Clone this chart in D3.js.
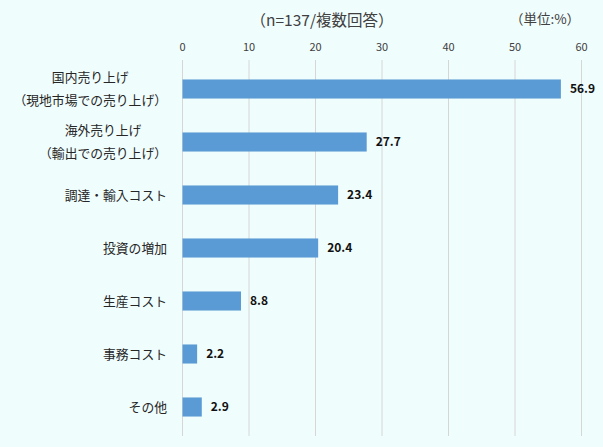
<!DOCTYPE html>
<html>
<head>
<meta charset="utf-8">
<script src="https://cdn.jsdelivr.net/npm/d3@7.9.0/dist/d3.min.js"></script>
<style>
  body { margin: 0; background: #f0fdfd; }
  svg { display: block; font-family: "Noto Sans CJK JP", "Noto Sans", sans-serif; }
</style>
</head>
<body>
<svg id="chart" width="603" height="447"></svg>
<script>
// categories (lines split for two-line labels) and values
const categories = [
    ['国内売り上げ', '（現地市場での売り上げ）'],
    ['海外売り上げ', '（輸出での売り上げ）'],
    ['調達・輸入コスト'],
    ['投資の増加'],
    ['生産コスト'],
    ['事務コスト'],
    ['その他']
];
const values = [56.9, 27.7, 23.4, 20.4, 8.8, 2.2, 2.9];
const ticks = [0, 10, 20, 30, 40, 50, 60];

const svg = d3.select('#chart');
const W = 603, H = 447;

svg.append('rect').attr('width', W).attr('height', H).attr('fill', '#f0fdfd');

const x = d3.scaleLinear().domain([0, 60]).range([182.5, 581.5]);
const y = d3.scaleBand()
    .domain(d3.range(categories.length))
    .range([62.5, 433.5])
    .paddingInner(0.64)
    .paddingOuter(0.32);

// gridlines
svg.append('g')
    .selectAll('line')
    .data(ticks)
    .join('line')
    .attr('x1', d => x(d))
    .attr('x2', d => x(d))
    .attr('y1', 60)
    .attr('y2', 436)
    .attr('stroke', '#d6d6d6')
    .attr('stroke-width', 1);

// top tick labels
svg.append('g')
    .selectAll('text')
    .data(ticks)
    .join('text')
    .attr('x', d => x(d))
    .attr('y', 51)
    .attr('text-anchor', 'middle')
    .attr('font-size', 11)
    .attr('fill', '#404040')
    .text(d => d);

// bars
svg.append('g')
    .selectAll('rect')
    .data(values)
    .join('rect')
    .attr('x', x(0))
    .attr('y', (d, i) => y(i))
    .attr('width', d => x(d) - x(0))
    .attr('height', y.bandwidth())
    .attr('fill', '#5b9bd5');

// value labels
svg.append('g')
    .selectAll('text')
    .data(values)
    .join('text')
    .attr('x', d => x(d) + 9)
    .attr('y', (d, i) => y(i) + y.bandwidth() / 2)
    .attr('dy', '0.36em')
    .attr('font-size', 12)
    .attr('font-weight', 'bold')
    .attr('fill', '#111')
    .text(d => d.toFixed(1));

// category labels
const labelRight = 167;
const lineH = 23.5;
categories.forEach((lines, i) => {
    const cy = y(i) + y.bandwidth() / 2;
    const g = svg.append('g');
    const texts = lines.map((ln, j) => g.append('text')
        .attr('y', cy + (j - (lines.length - 1) / 2) * lineH)
        .attr('dy', '0.36em')
        .attr('font-size', 12.8)
        .attr('fill', '#262626')
        .text(ln));
    const maxW = d3.max(texts, t => t.node().getComputedTextLength());
    texts.forEach(t => t.attr('x', labelRight - maxW / 2).attr('text-anchor', 'middle'));
});

// title and unit
svg.append('text')
    .attr('x', 322)
    .attr('y', 20)
    .attr('dy', '0.36em')
    .attr('text-anchor', 'middle')
    .attr('font-size', 15.5)
    .attr('fill', '#404040')
    .text('（n=137/複数回答）');

svg.append('text')
    .attr('x', 545)
    .attr('y', 19)
    .attr('dy', '0.36em')
    .attr('text-anchor', 'middle')
    .attr('font-size', 13.5)
    .attr('fill', '#404040')
    .text('（単位:%）');
</script>
</body>
</html>
